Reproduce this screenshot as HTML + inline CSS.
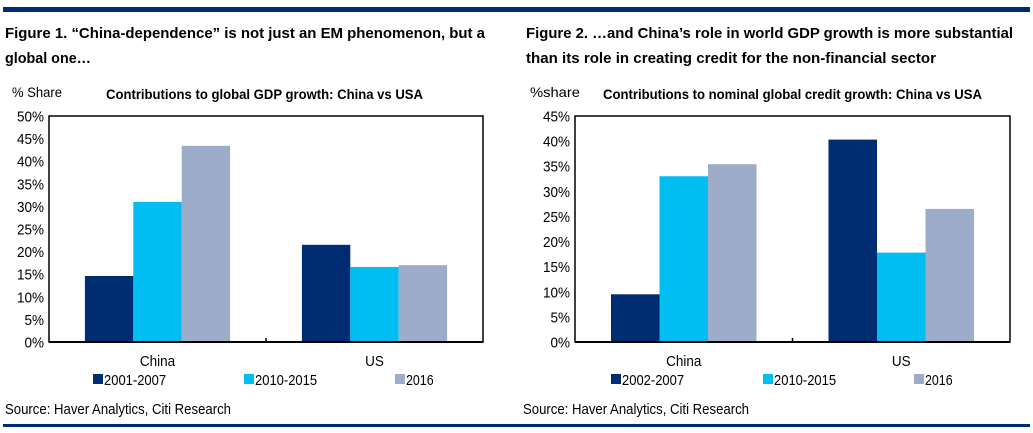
<!DOCTYPE html>
<html><head><meta charset="utf-8"><style>
html,body{margin:0;padding:0;background:#fff;}
svg{display:block;font-family:"Liberation Sans",Arial,sans-serif;}
</style></head><body>
<svg id="s" width="1033" height="433" viewBox="0 0 1033 433">
<rect x="3" y="7" width="1027" height="5" fill="#002d72"/>
<rect x="3" y="424" width="1027" height="3" fill="#002d72"/>
<text x="5" y="38" font-size="15" font-weight="bold" textLength="480" lengthAdjust="spacingAndGlyphs">Figure 1. “China-dependence” is not just an EM phenomenon, but a</text>
<text x="5" y="63" font-size="15" font-weight="bold" textLength="86" lengthAdjust="spacingAndGlyphs">global one…</text>
<text x="526" y="38" font-size="15" font-weight="bold" textLength="487" lengthAdjust="spacingAndGlyphs">Figure 2. …and China’s role in world GDP growth is more substantial</text>
<text x="526" y="63" font-size="15" font-weight="bold" textLength="410" lengthAdjust="spacingAndGlyphs">than its role in creating credit for the non-financial sector</text>
<g id="c1"></g>
<g id="c2"></g>
</svg>
<script>
const categories1 = ["China","US"];
const series1Names = ["2001-2007","2010-2015","2016"];
const series1A = [14.6, 21.5];
const series1B = [31.0, 16.6];
const series1C = [43.4, 17.0];
const ticks1 = [0,5,10,15,20,25,30,35,40,45,50];

const categories2 = ["China","US"];
const series2Names = ["2002-2007","2010-2015","2016"];
const series2A = [9.5, 40.3];
const series2B = [33.0, 17.8];
const series2C = [35.4, 26.5];
const ticks2 = [0,5,10,15,20,25,30,35,40,45];

const colors = ["#002d72","#00bdf2","#9dacc8"];
const NS = "http://www.w3.org/2000/svg";
function mk(parent, tag, attrs, text){
  const e = document.createElementNS(NS, tag);
  for (const k in attrs) e.setAttribute(k, attrs[k]);
  if (text !== undefined) e.textContent = text;
  parent.appendChild(e); return e;
}
function draw(g, cfg){
  const {x0,x1,y0,y1,max,ticks,cats,series,names,ylab,ylabX,title,titleX,titleW,legX,srcX} = cfg;
  const y = v => y1 - (v/max)*(y1-y0);
  const cw = (x1-x0)/cats.length;
  const bw = cw*0.223;
  const t = mk(g,'text',{x:titleX,y:99,'font-size':14,'font-weight':'bold',textLength:titleW,lengthAdjust:'spacingAndGlyphs'},title);
  
  
  const yl = mk(g,'text',{x:ylabX,y:97,'font-size':14,textLength:50,lengthAdjust:'spacingAndGlyphs'},ylab);
  
  
  ticks.forEach(v=>{
    const tl = mk(g,'text',{x:x0-5,y:y(v)+5.5,'font-size':15,'text-anchor':'end',transform:`translate(${x0-5},0) scale(0.9,1) translate(${-(x0-5)},0)`},v+'%');
    
    
  });
  cats.forEach((c,i)=>{
    const cx = x0 + cw*(i+0.5);
    series.forEach((s,j)=>{
      const bx = cx - 1.5*bw + j*bw;
      const r = mk(g,'rect',{x:bx,y:y(s[i]),width:bw,height:y1-y(s[i]),fill:colors[j]});
      
      
    });
    const cl = mk(g,'text',{x:cx,y:366,'font-size':15,'text-anchor':'middle',transform:`translate(${cx},0) scale(0.9,1) translate(${-cx},0)`},c);
    
    
  });
  const f = mk(g,'rect',{x:x0,y:y0,width:x1-x0,height:y1-y0,fill:'none',stroke:'#000','stroke-width':1.5});
  
  
  mk(g,'line',{x1:x0,x2:x1,y1:y1,y2:y1,stroke:'#000','stroke-width':2});
  const tk = mk(g,'line',{x1:(x0+x1)/2,x2:(x0+x1)/2,y1:y1,y2:y1-4,stroke:'#000','stroke-width':1.5});
  
  
  names.forEach((n,j)=>{
    const lg = mk(g,'g',{});
    
    
    mk(lg,'rect',{x:legX[j],y:374,width:10,height:10,fill:colors[j]});
    mk(lg,'text',{x:legX[j]+11,y:385,'font-size':15,textLength:n.length*6.9,lengthAdjust:'spacingAndGlyphs'},n);
  });
  const sr = mk(g,'text',{x:srcX,y:414,'font-size':15,textLength:226,lengthAdjust:'spacingAndGlyphs'},'Source: Haver Analytics, Citi Research');
  
  
}
draw(document.getElementById('c1'),{x0:49,x1:483,y0:116,y1:342,max:50,ticks:ticks1,cats:categories1,
  series:[series1A,series1B,series1C],names:series1Names,ylab:'% Share',ylabX:12,
  title:'Contributions to global GDP growth: China vs USA',titleX:106,titleW:317,legX:[93,244,395],srcX:5});
draw(document.getElementById('c2'),{x0:575,x1:1010,y0:116,y1:342,max:45,ticks:ticks2,cats:categories2,
  series:[series2A,series2B,series2C],names:series2Names,ylab:'%share',ylabX:530,
  title:'Contributions to nominal global credit growth: China vs USA',titleX:603,titleW:379,legX:[611,763,914],srcX:523});
</script>
</body></html>
